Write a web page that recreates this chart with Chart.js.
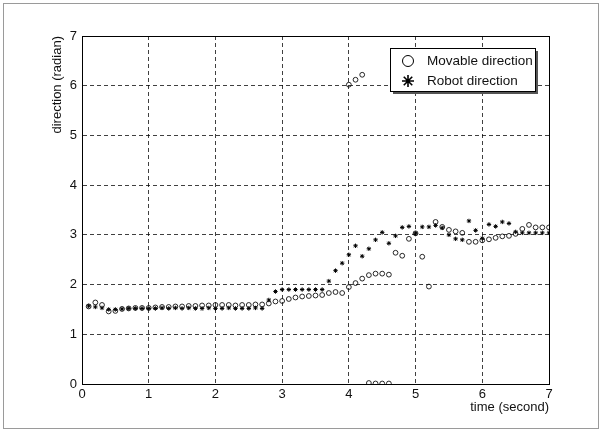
<!DOCTYPE html>
<html>
<head>
<meta charset="utf-8">
<script src="https://cdn.jsdelivr.net/npm/chart.js@4"></script>
<style>
  html, body { margin: 0; padding: 0; background: #fff; }
  #wrap { position: relative; width: 602px; height: 432px; }
</style>
</head>
<body>
<div id="wrap"><canvas id="chart" width="602" height="432"></canvas></div>
<script>
// time axis (second)
const robotTime = [0.1,0.2,0.3,0.4,0.5,0.6,0.7,0.8,0.9,1.0,1.1,1.2,1.3,1.4,1.5,1.6,1.7,1.8,1.9,2.0,
  2.1,2.2,2.3,2.4,2.5,2.6,2.7,2.8,2.9,3.0,3.1,3.2,3.3,3.4,3.5,3.6,3.7,3.8,3.9,4.0,
  4.1,4.2,4.3,4.4,4.5,4.6,4.7,4.8,4.9,5.0,5.1,5.2,5.3,5.4,5.5,5.6,5.7,5.8,5.9,6.0,
  6.1,6.2,6.3,6.4,6.5,6.6,6.7,6.8,6.9,7.0]
const robotDir = [1.57,1.55,1.53,1.50,1.50,1.51,1.52,1.52,1.52,1.52,1.52,1.53,1.52,1.53,1.52,1.53,1.52,1.52,1.53,1.52,
  1.52,1.53,1.52,1.52,1.52,1.53,1.52,1.69,1.86,1.90,1.90,1.90,1.90,1.90,1.90,1.90,2.07,2.28,2.43,2.60,
  2.78,2.57,2.72,2.90,3.05,2.83,2.98,3.15,3.17,3.03,3.16,3.16,3.19,3.14,3.00,2.92,2.90,3.28,3.09,2.93,
  3.21,3.17,3.26,3.23,3.06,3.04,3.04,3.04,3.04,3.04]

const movTime = [0.1,0.2,0.3,0.4,0.5,0.6,0.7,0.8,0.9,1.0,1.1,1.2,1.3,1.4,1.5,1.6,1.7,1.8,1.9,2.0,
  2.1,2.2,2.3,2.4,2.5,2.6,2.7,2.8,2.9,3.0,3.1,3.2,3.3,3.4,3.5,3.6,3.7,3.8,3.9,4.0,
  4.1,4.2,4.3,4.4,4.5,4.6,4.7,4.8,4.9,5.0,5.1,5.2,5.3,5.4,5.5,5.6,5.7,5.8,5.9,6.0,
  6.1,6.2,6.3,6.4,6.5,6.6,6.7,6.8,6.9,7.0,
  4.0,4.1,4.2,4.3,4.4,4.5,4.6]
const movDir = [1.56,1.64,1.59,1.46,1.47,1.51,1.52,1.53,1.53,1.53,1.54,1.55,1.55,1.56,1.56,1.57,1.57,1.58,1.58,1.59,
  1.59,1.59,1.58,1.59,1.59,1.60,1.60,1.62,1.66,1.67,1.71,1.74,1.76,1.77,1.78,1.79,1.83,1.85,1.83,1.95,
  2.03,2.12,2.19,2.22,2.22,2.20,2.64,2.58,2.92,3.03,2.56,1.96,3.26,3.16,3.10,3.07,3.04,2.86,2.86,2.89,
  2.91,2.94,2.97,2.98,3.02,3.12,3.20,3.15,3.15,3.15,
  6.02,6.12,6.22,0.02,0.01,0.01,0.01]

const xTicks = [0,1,2,3,4,5,6,7]
const yTicks = [0,1,2,3,4,5,6,7]
const legendLabels = ['Movable direction', 'Robot direction']

const FONT = "'Liberation Sans', Arial, sans-serif"

const toPoints = (xs, ys) => xs.map((x, i) => ({ x, y: ys[i] }))

const framePlugin = {
  id: 'frame',
  afterDatasetsDraw(chart) {
    const { ctx, chartArea: a } = chart
    ctx.save()
    // plot box
    ctx.strokeStyle = '#000'
    ctx.lineWidth = 1
    ctx.strokeRect(Math.round(a.left) + 0.5, Math.round(a.top) + 0.5,
      Math.round(a.right - a.left), Math.round(a.bottom - a.top))
    // outer figure frame
    ctx.strokeStyle = '#9a9a9a'
    ctx.strokeRect(3.5, 3.5, 595, 425)

    // legend box
    const lx = 390, ly = 48, lw = 145, lh = 43
    ctx.fillStyle = '#555'
    ctx.fillRect(lx + 3, ly + 3, lw, lh)
    ctx.fillStyle = '#fff'
    ctx.fillRect(lx, ly, lw, lh)
    ctx.strokeStyle = '#000'
    ctx.strokeRect(lx + 0.5, ly + 0.5, lw, lh)

    Chart.helpers.drawPoint(ctx, { pointStyle: 'circle', radius: 5.5, borderWidth: 1.3 }, 408, 61)
    ctx.lineWidth = 1.6
    Chart.helpers.drawPoint(ctx, { pointStyle: 'star', radius: 6, borderWidth: 1.6 }, 408, 81)

    ctx.fillStyle = '#111'
    ctx.font = '13.5px ' + FONT
    ctx.textBaseline = 'middle'
    ctx.fillText(legendLabels[0], 427, 61)
    ctx.fillText(legendLabels[1], 427, 81)
    ctx.restore()
  }
}

const grid = {
  color: 'rgba(0,0,0,0.75)',
  lineWidth: 1,
  drawTicks: false
}
const border = { display: true, color: '#000', dash: [4, 3] }

new Chart(document.getElementById('chart'), {
  type: 'scatter',
  data: {
    datasets: [
      {
        label: legendLabels[0],
        data: toPoints(movTime, movDir),
        pointStyle: 'circle',
        pointRadius: 2.4,
        borderWidth: 0.9,
        borderColor: '#111',
        backgroundColor: 'transparent'
      },
      {
        label: legendLabels[1],
        data: toPoints(robotTime, robotDir),
        pointStyle: 'star',
        pointRadius: 2.2,
        borderWidth: 1,
        borderColor: '#000',
        backgroundColor: '#000'
      }
    ]
  },
  options: {
    responsive: false,
    animation: false,
    layout: { padding: { left: 50, right: 53, top: 36, bottom: 17 } },
    plugins: {
      legend: { display: false },
      tooltip: { enabled: false }
    },
    scales: {
      x: {
        type: 'linear',
        min: 0, max: 7,
        afterBuildTicks: s => { s.ticks = xTicks.map(v => ({ value: v })) },
        grid: { ...grid },
        border: { ...border },
        ticks: { color: '#111', font: { family: FONT, size: 13 }, padding: 3, maxRotation: 0 },
        title: {
          display: true, text: 'time (second)', align: 'end',
          color: '#111', font: { family: FONT, size: 13 }, padding: { top: 0, bottom: 0 }
        },
        afterFit: s => { s.height = 31 }
      },
      y: {
        type: 'linear',
        min: 0, max: 7,
        afterBuildTicks: s => { s.ticks = yTicks.map(v => ({ value: v })) },
        grid: { ...grid },
        border: { ...border },
        ticks: { color: '#111', font: { family: FONT, size: 13 }, padding: 5 },
        title: {
          display: true, text: 'direction (radian)', align: 'end',
          color: '#111', font: { family: FONT, size: 13 }, padding: { top: 0, bottom: 0 }
        },
        afterFit: s => { s.width = 32 }
      }
    }
  },
  plugins: [framePlugin]
})
</script>
</body>
</html>
